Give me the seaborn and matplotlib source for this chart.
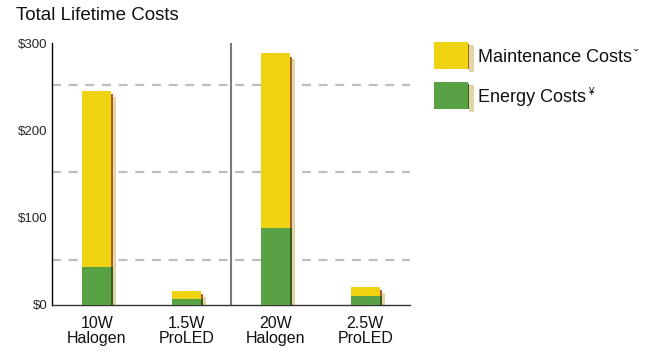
import matplotlib
matplotlib.use("Agg")
import matplotlib.pyplot as plt
import seaborn as sns
import pandas as pd
import numpy as np
from matplotlib.patches import Rectangle

# ---- data ----
categories = ["10W\nHalogen", "1.5W\nProLED", "20W\nHalogen", "2.5W\nProLED"]
energy_costs = [43, 7, 88, 10]
maintenance_costs = [202, 9, 200, 10.5]
y_ticks = [0, 100, 200, 300]
y_tick_labels = ["$0", "$100", "$200", "$300"]
grid_values = [52, 152, 252]
legend_labels = ["Maintenance Costs", "Energy Costs"]
legend_marks = ["ˇ", "¥"]

YELLOW = "#EFD312"
GREEN = "#58A145"
BROWN = "#A65E2A"
DKGREEN = "#3E5A1A"
BEIGE = "#E2D5A8"

sns.set_theme(style="white")
plt.rcParams["font.family"] = ["Liberation Sans", "DejaVu Sans"]

totals = [e + m for e, m in zip(energy_costs, maintenance_costs)]
df = pd.DataFrame({"cat": categories, "energy": energy_costs, "total": totals})

W, H = 657, 351
fig = plt.figure(figsize=(W / 100, H / 100), dpi=100)
ax = fig.add_axes([52 / W, (H - 305) / H, (410 - 52) / W, (305 - 43) / H])

bw = 0.324
sns.barplot(data=df, x="cat", y="total", color=YELLOW, saturation=1, width=bw,
            ax=ax, zorder=3, order=categories)
sns.barplot(data=df, x="cat", y="energy", color=GREEN, saturation=1, width=bw,
            ax=ax, zorder=4, order=categories)
for p in ax.patches:
    p.set_edgecolor("none")
    p.set_linewidth(0)

# shadows
ppx = 358 / 4.0  # px per category unit
ppy = 262 / 300.0
d1 = 2 / ppx
d2 = 3 / ppx
for i, (e, t) in enumerate(zip(energy_costs, totals)):
    right = i + bw / 2
    ax.bar(right + d1 + d2 / 2, t - 5.5 / ppy, width=d2, color=BEIGE, zorder=2, linewidth=0)
    ax.bar(right + d1 / 2, t - 3.4 / ppy - e, bottom=e, width=d1, color=BROWN, zorder=2, linewidth=0)
    ax.bar(right + d1 / 2, e, width=d1, color=DKGREEN, zorder=2, linewidth=0)

ax.set_xlim(-0.5, 3.5)
ax.set_ylim(0, 300)

for g in grid_values:
    ax.axhline(g, color="#BDBDBD", lw=1.6, ls=(0, (4, 3.5)), zorder=1)
ax.axvline(1.5, color="#7a7a7a", lw=1.5, zorder=1)

for s in ["top", "right"]:
    ax.spines[s].set_visible(False)
ax.spines["left"].set_color("black")
ax.spines["left"].set_linewidth(1.0)
ax.spines["bottom"].set_color("#333333")
ax.spines["bottom"].set_linewidth(1.0)

ax.set_yticks(y_ticks)
ax.set_yticklabels(y_tick_labels, fontsize=9.5)
ax.tick_params(axis="y", direction="in", length=4, width=1, color="black", pad=3)
ax.set_xticks(range(len(categories)))
ax.set_xticklabels(categories, fontsize=11.5, linespacing=0.95, color="#111111")
ax.tick_params(axis="x", length=0, pad=8)
ax.set_xticks([0.5, 2.5, 3.5], minor=True)
ax.tick_params(axis="x", which="minor", direction="in", length=5, width=1, color="black")
ax.set_xlabel("")
ax.set_ylabel("")

# overlay for title and legend
ov = fig.add_axes([0, 0, 1, 1])
ov.set_xlim(0, W)
ov.set_ylim(H, 0)
ov.axis("off")
ov.patch.set_alpha(0)
ov.text(16, 15, "Total Lifetime Costs", fontsize=13.5, va="center", ha="left", color="#111111")

leg_colors = [(YELLOW, BROWN), (GREEN, DKGREEN)]
leg_y = [42, 82]
mark_dy = [14, 10]
mark_fs = [10, 7]
for (c, dc), y0, lab, mk, mdy, mfs in zip(leg_colors, leg_y, legend_labels, legend_marks, mark_dy, mark_fs):
    ov.add_patch(Rectangle((469, y0 + 3), 5, 27, color=BEIGE, lw=0))
    ov.add_patch(Rectangle((467, y0 + 2), 2, 25, color=dc, lw=0))
    ov.add_patch(Rectangle((434, y0), 34, 27, color=c, lw=0))
    t = ov.text(478, y0 + 15, lab, fontsize=13, va="center", ha="left", color="#111111")
    fig.canvas.draw()
    bb = t.get_window_extent()
    ov.text(bb.x1 + 2, y0 + mdy, mk, fontsize=mfs, va="center", ha="left", color="#111111")

fig.savefig("out.png", dpi=100)
